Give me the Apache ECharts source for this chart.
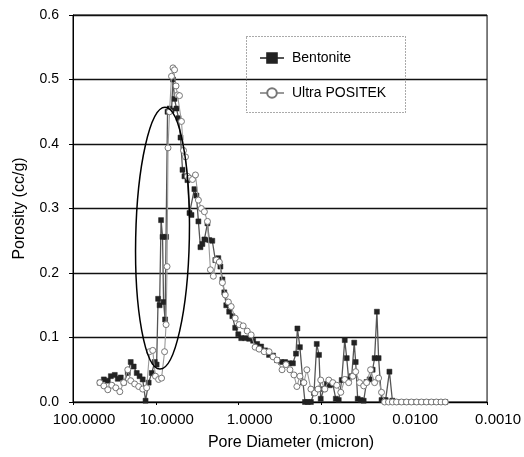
<!DOCTYPE html>
<html>
<head>
<meta charset="utf-8">
<script src="https://cdn.jsdelivr.net/npm/echarts@6/dist/echarts.min.js"></script>
<style>
html,body{margin:0;padding:0;background:#fff;}
#c{width:524px;height:457px;}
</style>
</head>
<body>
<div id="c"></div>
<script>
// Pore diameter (micron) and porosity (cc/g)
var bentoniteDiam = [47.4,42.4,38.0,34.9,31.3,28.8,26.5,24.4,21.8,20.1,18.5,17.0,15.7,14.4,13.3,12.2,11.2,10.3,9.78,9.38,9.00,8.64,8.29,8.06,7.73,7.52,7.22,6.83,6.46,6.20,5.94,5.62,5.32,5.03,4.76,4.51,4.15,3.92,3.71,3.42,3.23,3.06,2.89,2.74,2.59,2.38,2.26,2.08,1.91,1.76,1.66,1.57,1.49,1.41,1.30,1.19,1.10,1.01,0.930,0.833,0.746,0.668,0.598,0.535,0.479,0.429,0.384,0.344,0.308,0.275,0.246,0.221,0.203,0.195,0.182,0.167,0.158,0.146,0.134,0.123,0.114,0.107,0.102,0.0936,0.0861,0.0793,0.0729,0.0671,0.0618,0.0569,0.0523,0.0495,0.0469,0.0431,0.0402,0.0386,0.0365,0.0336,0.0309,0.0285,0.0262,0.0241,0.0228,0.0214,0.0204,0.0188,0.0168,0.0151,0.0139,0.0124,0.0108,0.0094,0.0082,0.0071,0.0062,0.0054,0.0047,0.0041,0.0036,0.0032];
var bentoniteVal = [0.030,0.035,0.033,0.040,0.042,0.036,0.038,0.030,0.045,0.062,0.055,0.045,0.040,0.035,0.002,0.030,0.045,0.062,0.058,0.160,0.150,0.282,0.256,0.155,0.128,0.256,0.450,0.455,0.452,0.500,0.470,0.455,0.440,0.410,0.360,0.350,0.344,0.293,0.290,0.330,0.320,0.280,0.240,0.245,0.252,0.277,0.251,0.250,0.220,0.223,0.210,0.190,0.170,0.150,0.140,0.133,0.115,0.105,0.099,0.099,0.098,0.095,0.090,0.086,0.080,0.073,0.072,0.065,0.062,0.062,0.060,0.060,0.075,0.114,0.085,0.030,0.000,0.000,0.000,0.014,0.090,0.073,0.005,0.020,0.028,0.026,0.028,0.005,0.003,0.034,0.096,0.068,0.035,0.040,0.092,0.062,0.005,0.003,0.002,0.031,0.035,0.050,0.068,0.140,0.068,0.003,0.003,0.047,0.002,0,0,0,0,0,0,0,0,0,0,0];

var positekDiam = [47.4,42.4,38.0,34.0,30.4,27.2,24.4,21.8,20.1,18.0,16.1,14.4,12.9,11.9,10.9,10.1,9.25,8.52,7.84,7.52,7.32,7.12,6.83,6.46,6.20,5.94,5.70,5.47,5.18,4.90,4.63,4.38,4.15,3.92,3.61,3.32,3.06,2.82,2.59,2.38,2.19,2.02,1.86,1.71,1.57,1.45,1.33,1.23,1.10,0.984,0.881,0.788,0.706,0.632,0.566,0.492,0.429,0.384,0.344,0.299,0.268,0.240,0.215,0.198,0.182,0.163,0.150,0.134,0.120,0.110,0.102,0.0910,0.0815,0.0729,0.0653,0.0584,0.0523,0.0469,0.0419,0.0386,0.0346,0.0309,0.0285,0.0255,0.0228,0.0204,0.0188,0.0173,0.0155,0.0139,0.0124,0.0108,0.0094,0.0082,0.0071,0.0062,0.0054,0.0047,0.0041,0.0036,0.0032];
var positekVal = [0.030,0.025,0.019,0.026,0.022,0.016,0.030,0.050,0.033,0.028,0.024,0.020,0.022,0.078,0.080,0.040,0.035,0.037,0.078,0.120,0.210,0.394,0.450,0.505,0.518,0.515,0.490,0.476,0.475,0.435,0.390,0.380,0.350,0.347,0.345,0.352,0.313,0.300,0.295,0.280,0.205,0.195,0.220,0.217,0.185,0.166,0.155,0.148,0.130,0.120,0.118,0.110,0.104,0.085,0.082,0.078,0.078,0.070,0.065,0.050,0.058,0.050,0.042,0.024,0.040,0.030,0.050,0.020,0.014,0.020,0.034,0.020,0.034,0.030,0.026,0.015,0.035,0.030,0.040,0.047,0.030,0.025,0.030,0.050,0.030,0.037,0.015,0,0,0,0,0,0,0,0,0,0,0,0,0,0];

var seriesNames = ['Bentonite', 'Ultra POSITEK'];
var yTicks = [0, 0.6, 0.1];
// highlighted region (ellipse) in data terms: centre, left edge diameter, top porosity
var ellipseCentre = [8.3, 0.254];
var ellipseLeftDiam = 17.5;
var ellipseTopVal = 0.457;

function pairs(xs, ys){ var out=[]; for(var i=0;i<xs.length;i++) out.push([xs[i], ys[i]]); return out; }

var FONT = 'Liberation Sans, Arial, sans-serif';
var chart = echarts.init(document.getElementById('c'), null, {renderer:'canvas'});
chart.setOption({
  animation:false,
  backgroundColor:'#fff',
  grid:{left:73, right:35, top:15, bottom:55, show:true, borderColor:'#000', borderWidth:1},
  legend:{
    data:seriesNames, orient:'vertical', left:254, top:46, itemGap:21,
    itemWidth:24, itemHeight:12,
    textStyle:{fontFamily:FONT, fontSize:14, color:'#000', padding:[0,0,0,3]}
  },
  xAxis:{
    type:'log', logBase:10, min:0.001, max:100, inverse:true,
    name:'Pore Diameter (micron)', nameLocation:'middle', nameGap:33,
    nameTextStyle:{fontFamily:FONT, fontSize:16, color:'#000', padding:[0,0,0,22]},
    axisLine:{show:true, lineStyle:{color:'#000', width:1}},
    axisTick:{show:true, length:3, lineStyle:{color:'#000'}},
    axisLabel:{fontFamily:FONT, fontSize:15, color:'#000', margin:10, padding:[0,0,0,22],
      formatter:function(v){ return Number(v).toFixed(4); }},
    splitLine:{show:false}, minorTick:{show:false}
  },
  yAxis:{
    type:'value', min:yTicks[0], max:yTicks[1], interval:yTicks[2],
    name:'Porosity (cc/g)', nameLocation:'middle', nameGap:45, nameRotate:90,
    nameTextStyle:{fontFamily:FONT, fontSize:16, color:'#000'},
    axisLine:{show:true, lineStyle:{color:'#000', width:1}},
    axisTick:{show:true, length:4, lineStyle:{color:'#000'}},
    axisLabel:{fontFamily:FONT, fontSize:14, color:'#000', margin:14,
      formatter:function(v){ return Number(v).toFixed(1); }},
    splitLine:{show:true, lineStyle:{color:'#111', width:1.4}}
  },
  series:[
    {name:seriesNames[0], type:'line', data:pairs(bentoniteDiam, bentoniteVal),
     symbol:'rect', symbolSize:5, showAllSymbol:true,
     lineStyle:{color:'#555', width:1.3},
     itemStyle:{color:'#222', borderColor:'#222', borderWidth:0.5}, z:3},
    {name:seriesNames[1], type:'line', data:pairs(positekDiam, positekVal),
     symbol:'circle', symbolSize:6, showAllSymbol:true,
     lineStyle:{color:'#999', width:1.1},
     itemStyle:{color:'#fff', borderColor:'#777', borderWidth:1}, z:4}
  ]
});

var c = chart.convertToPixel({xAxisIndex:0, yAxisIndex:0}, ellipseCentre);
var l = chart.convertToPixel({xAxisIndex:0, yAxisIndex:0}, [ellipseLeftDiam, ellipseCentre[1]]);
var t = chart.convertToPixel({xAxisIndex:0, yAxisIndex:0}, [ellipseCentre[0], ellipseTopVal]);
chart.setOption({
  graphic:[
    {type:'rect', left:244, top:34, shape:{x:0, y:0, width:159, height:76},
     style:{fill:'none', stroke:'#555', lineWidth:1, lineDash:[1,2]}, z:10},
    {type:'ellipse', shape:{cx:c[0], cy:c[1], rx:Math.abs(c[0]-l[0]), ry:Math.abs(c[1]-t[1])},
     rotation:-0.02, originX:c[0], originY:c[1],
     style:{fill:'none', stroke:'#000', lineWidth:1.5}, z:10}
  ]
});
</script>
</body>
</html>
